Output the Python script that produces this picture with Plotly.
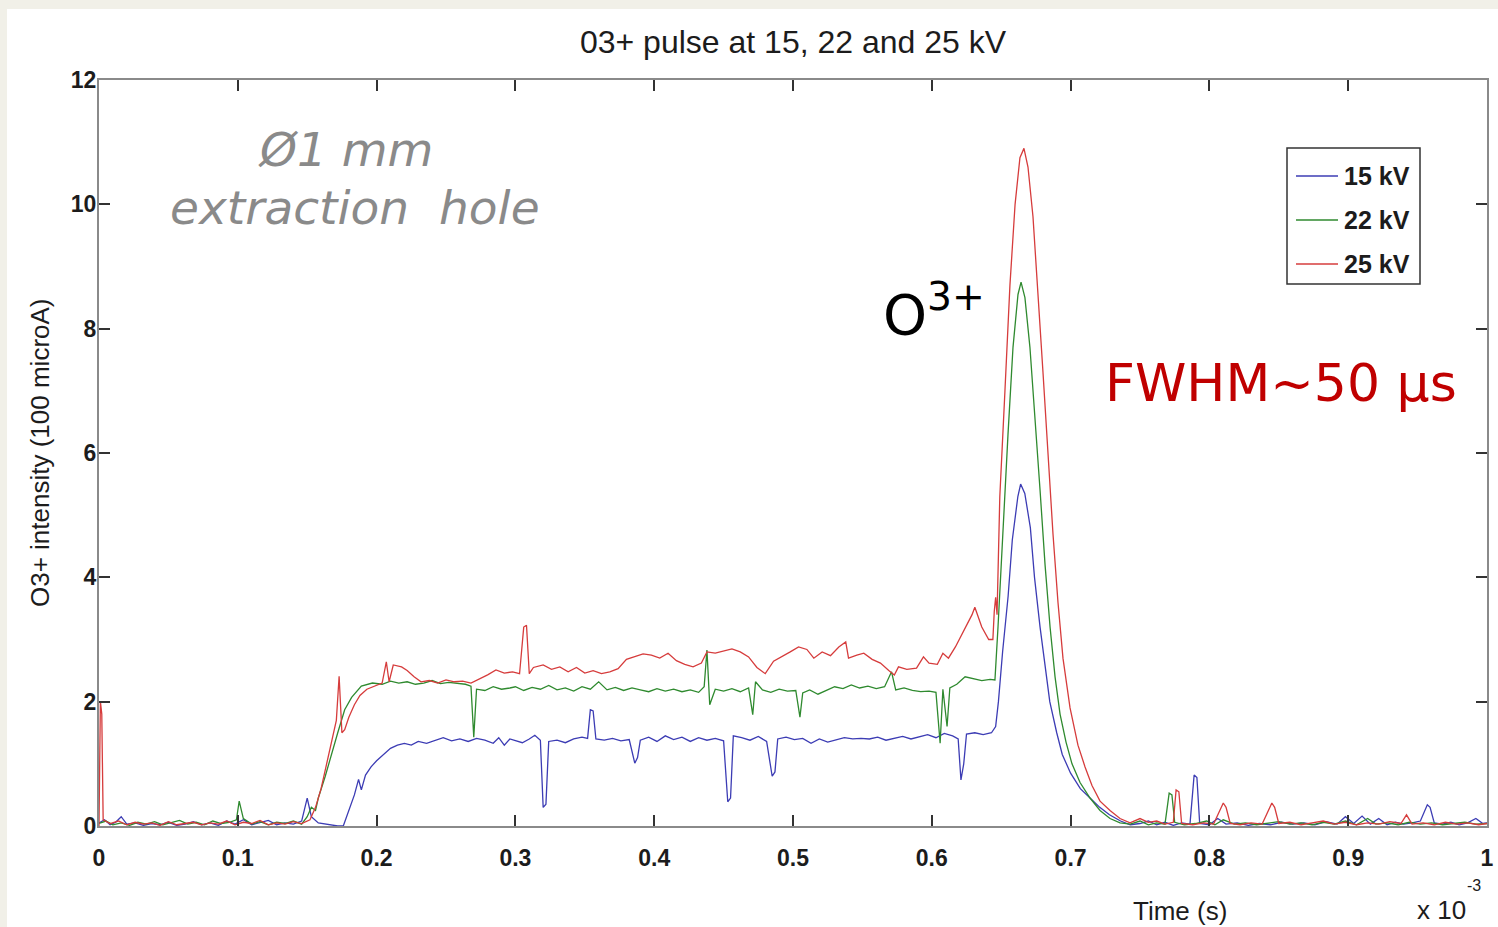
import plotly.graph_objects as go

# ---- Data: time in units of 1e-3 s, intensity in units of 100 microA ----
t_15kv = [0.000, 0.004, 0.008, 0.012, 0.016, 0.020, 0.026, 0.032, 0.038, 0.044, 0.050, 0.056, 0.062, 0.068,
          0.074, 0.080, 0.086, 0.092, 0.098, 0.104, 0.110, 0.116, 0.122, 0.128, 0.134, 0.140, 0.146, 0.150,
          0.153, 0.158, 0.165, 0.172, 0.176, 0.180, 0.184, 0.187, 0.189, 0.192, 0.196, 0.200, 0.205, 0.210,
          0.215, 0.220, 0.225, 0.230, 0.236, 0.242, 0.248, 0.254, 0.260, 0.266, 0.272, 0.278, 0.284, 0.288,
          0.292, 0.296, 0.300, 0.305, 0.310, 0.314, 0.318, 0.320, 0.322, 0.324, 0.330, 0.336, 0.342, 0.348,
          0.352, 0.354, 0.356, 0.358, 0.364, 0.370, 0.376, 0.382, 0.386, 0.388, 0.390, 0.396, 0.402, 0.408,
          0.414, 0.420, 0.426, 0.432, 0.438, 0.444, 0.450, 0.453, 0.455, 0.457, 0.463, 0.469, 0.475, 0.481,
          0.485, 0.487, 0.489, 0.495, 0.501, 0.507, 0.513, 0.519, 0.525, 0.531, 0.537, 0.543, 0.549, 0.555,
          0.561, 0.567, 0.573, 0.579, 0.585, 0.591, 0.597, 0.603, 0.609, 0.615, 0.619, 0.621, 0.623, 0.625,
          0.631, 0.637, 0.643, 0.646, 0.648, 0.651, 0.655, 0.658, 0.662, 0.664, 0.667, 0.671, 0.674, 0.678,
          0.682, 0.685, 0.690, 0.694, 0.700, 0.707, 0.714, 0.721, 0.728, 0.736, 0.743, 0.750, 0.756, 0.762,
          0.768, 0.774, 0.780, 0.786, 0.789, 0.791, 0.793, 0.800, 0.806, 0.812, 0.820, 0.828, 0.836, 0.844,
          0.852, 0.860, 0.868, 0.876, 0.884, 0.892, 0.898, 0.904, 0.910, 0.916, 0.922, 0.928, 0.934, 0.940,
          0.946, 0.952, 0.957, 0.959, 0.962, 0.968, 0.974, 0.980, 0.986, 0.992, 0.997, 1.000]
i_15kv = [0.05, 0.10, 0.02, 0.06, 0.15, 0.03, 0.05, 0.01, 0.04, 0.02, 0.06, 0.01, 0.03, 0.07,
          0.02, 0.05, 0.01, 0.08, 0.03, 0.10, 0.02, 0.06, 0.09, 0.02, 0.05, 0.03, 0.08, 0.45,
          0.15, 0.05, 0.02, 0.00, 0.00, 0.25, 0.50, 0.75, 0.58, 0.82, 0.95, 1.05, 1.15, 1.25,
          1.30, 1.33, 1.30, 1.36, 1.33, 1.38, 1.42, 1.37, 1.40, 1.36, 1.41, 1.38, 1.33, 1.42,
          1.30, 1.40, 1.37, 1.34, 1.40, 1.46, 1.38, 0.30, 0.35, 1.36, 1.38, 1.34, 1.40, 1.43,
          1.41, 1.87, 1.85, 1.40, 1.38, 1.41, 1.37, 1.39, 1.01, 1.10, 1.38, 1.43, 1.36, 1.45,
          1.39, 1.43, 1.36, 1.42, 1.38, 1.41, 1.37, 0.39, 0.45, 1.45, 1.42, 1.38, 1.44, 1.36,
          0.80, 0.87, 1.40, 1.43, 1.39, 1.41, 1.33, 1.40, 1.35, 1.38, 1.42, 1.40, 1.41, 1.40,
          1.43, 1.38, 1.41, 1.44, 1.40, 1.43, 1.47, 1.42, 1.49, 1.45, 1.40, 0.74, 1.00, 1.48,
          1.50, 1.47, 1.50, 1.60, 2.00, 2.80, 3.70, 4.60, 5.30, 5.50, 5.35, 4.80, 4.00, 3.20,
          2.50, 2.00, 1.50, 1.15, 0.85, 0.60, 0.45, 0.30, 0.18, 0.08, 0.02, 0.04, 0.08, 0.02,
          0.06, 0.01, 0.05, 0.03, 0.82, 0.78, 0.04, 0.02, 0.12, 0.03, 0.05, 0.01, 0.04, 0.02,
          0.06, 0.03, 0.05, 0.02, 0.07, 0.03, 0.15, 0.04, 0.16, 0.03, 0.12, 0.02, 0.06, 0.03,
          0.05, 0.08, 0.34, 0.30, 0.05, 0.03, 0.06, 0.02, 0.05, 0.12, 0.04, 0.05]

t_22kv = [0.000, 0.005, 0.010, 0.016, 0.022, 0.028, 0.034, 0.040, 0.046, 0.052, 0.058, 0.064, 0.070, 0.076,
          0.082, 0.088, 0.094, 0.099, 0.101, 0.104, 0.110, 0.116, 0.122, 0.128, 0.134, 0.140, 0.146, 0.150,
          0.153, 0.156, 0.158, 0.163, 0.168, 0.172, 0.177, 0.182, 0.189, 0.197, 0.204, 0.210, 0.216, 0.222,
          0.228, 0.234, 0.240, 0.246, 0.252, 0.258, 0.264, 0.268, 0.270, 0.272, 0.278, 0.284, 0.290, 0.296,
          0.300, 0.306, 0.312, 0.318, 0.324, 0.330, 0.336, 0.342, 0.348, 0.354, 0.360, 0.366, 0.372, 0.378,
          0.384, 0.390, 0.396, 0.402, 0.408, 0.414, 0.420, 0.426, 0.432, 0.436, 0.438, 0.440, 0.444, 0.450,
          0.456, 0.462, 0.468, 0.471, 0.473, 0.478, 0.484, 0.490, 0.496, 0.502, 0.505, 0.507, 0.512, 0.518,
          0.524, 0.530, 0.536, 0.542, 0.548, 0.554, 0.560, 0.566, 0.571, 0.574, 0.580, 0.586, 0.592, 0.598,
          0.603, 0.606, 0.608, 0.611, 0.613, 0.618, 0.624, 0.630, 0.636, 0.642, 0.6455, 0.6477, 0.6513,
          0.6549, 0.6585, 0.6621, 0.6643, 0.6671, 0.6707, 0.6744, 0.678, 0.6816, 0.6852, 0.6888, 0.6924,
          0.6967, 0.701, 0.7068, 0.714, 0.7212, 0.7284, 0.7356, 0.743, 0.750, 0.756, 0.762, 0.768, 0.771,
          0.773, 0.775, 0.782, 0.790, 0.798, 0.804, 0.810, 0.818, 0.826, 0.834, 0.842, 0.850, 0.858, 0.866,
          0.874, 0.882, 0.890, 0.898, 0.906, 0.914, 0.920, 0.928, 0.936, 0.944, 0.952, 0.960, 0.968, 0.976,
          0.984, 0.992, 1.000]
i_22kv = [0.04, 0.08, 0.02, 0.05, 0.01, 0.06, 0.03, 0.07, 0.02, 0.05, 0.09, 0.03, 0.06, 0.02,
          0.08, 0.04, 0.06, 0.10, 0.40, 0.12, 0.03, 0.07, 0.02, 0.06, 0.04, 0.08, 0.03, 0.15,
          0.30, 0.25, 0.45, 0.80, 1.20, 1.50, 1.87, 2.07, 2.25, 2.30, 2.28, 2.33, 2.30, 2.32,
          2.28, 2.30, 2.34, 2.29, 2.31, 2.30, 2.28, 2.25, 1.43, 2.20, 2.18, 2.24, 2.20, 2.22,
          2.24, 2.18, 2.23, 2.20, 2.26, 2.19, 2.22, 2.17, 2.24, 2.20, 2.32, 2.19, 2.23, 2.18,
          2.22, 2.19, 2.16, 2.21, 2.17, 2.20, 2.16, 2.19, 2.15, 2.24, 2.83, 1.95, 2.20, 2.17,
          2.21, 2.16, 2.22, 1.79, 2.32, 2.19, 2.15, 2.20, 2.17, 2.18, 1.75, 2.14, 2.19, 2.12,
          2.18, 2.24, 2.21, 2.27, 2.22, 2.25, 2.21, 2.24, 2.48, 2.19, 2.22, 2.18, 2.16, 2.17,
          2.15, 1.33, 2.20, 1.60, 2.22, 2.28, 2.40, 2.37, 2.34, 2.36, 2.35, 3.20, 4.80,
          6.30, 7.70, 8.55, 8.75, 8.50, 7.70, 6.60, 5.40, 4.20, 3.20, 2.40, 1.80,
          1.35, 1.00, 0.70, 0.45, 0.25, 0.12, 0.05, 0.03, 0.08, 0.02, 0.05, 0.03, 0.53,
          0.50, 0.06, 0.02, 0.04, 0.08, 0.02, 0.10, 0.03, 0.05, 0.02, 0.04, 0.07, 0.03, 0.05,
          0.02, 0.06, 0.03, 0.08, 0.02, 0.12, 0.03, 0.05, 0.02, 0.06, 0.03, 0.05, 0.02, 0.04,
          0.06, 0.03, 0.04]

t_25kv = [0.000, 0.001, 0.002, 0.003, 0.008, 0.014, 0.020, 0.026, 0.032, 0.038, 0.044, 0.050, 0.056, 0.062,
          0.068, 0.074, 0.080, 0.086, 0.092, 0.098, 0.104, 0.110, 0.116, 0.122, 0.128, 0.134, 0.140, 0.146,
          0.152, 0.156, 0.160, 0.164, 0.168, 0.171, 0.173, 0.175, 0.177, 0.180, 0.184, 0.188, 0.193, 0.198,
          0.204, 0.207, 0.209, 0.212, 0.218, 0.222, 0.227, 0.232, 0.238, 0.244, 0.250, 0.256, 0.262, 0.268,
          0.274, 0.280, 0.286, 0.292, 0.298, 0.303, 0.306, 0.308, 0.310, 0.313, 0.320, 0.326, 0.332, 0.338,
          0.344, 0.350, 0.356, 0.362, 0.368, 0.374, 0.380, 0.386, 0.392, 0.398, 0.404, 0.410, 0.416, 0.422,
          0.428, 0.434, 0.438, 0.444, 0.450, 0.456, 0.462, 0.468, 0.474, 0.480, 0.486, 0.492, 0.498, 0.504,
          0.510, 0.515, 0.521, 0.527, 0.533, 0.538, 0.540, 0.546, 0.551, 0.557, 0.563, 0.569, 0.573, 0.576,
          0.582, 0.589, 0.594, 0.598, 0.604, 0.608, 0.612, 0.617, 0.622, 0.629, 0.631, 0.636, 0.641, 0.644,
          0.645, 0.646, 0.647, 0.649, 0.6527, 0.6563, 0.660, 0.6635, 0.6664, 0.6693, 0.6729, 0.6765, 0.6801,
          0.6837, 0.6873, 0.6909, 0.6945, 0.6996, 0.7053, 0.7104, 0.7154, 0.7212, 0.7284, 0.7356, 0.7428,
          0.750, 0.756, 0.762, 0.768, 0.774, 0.776, 0.778, 0.780, 0.788, 0.796, 0.803, 0.810, 0.812, 0.815,
          0.822, 0.830, 0.838, 0.845, 0.847, 0.850, 0.858, 0.866, 0.874, 0.882, 0.890, 0.898, 0.906, 0.914,
          0.922, 0.930, 0.938, 0.942, 0.946, 0.954, 0.962, 0.970, 0.978, 0.986, 0.994, 1.000]
i_25kv = [0.00, 2.00, 1.80, 0.10, 0.04, 0.08, 0.02, 0.06, 0.03, 0.05, 0.01, 0.07, 0.02, 0.04,
          0.06, 0.02, 0.05, 0.03, 0.08, 0.02, 0.06, 0.04, 0.09, 0.02, 0.05, 0.03, 0.07, 0.04,
          0.10, 0.30, 0.60, 1.00, 1.40, 1.70, 2.41, 1.50, 1.55, 1.75, 1.95, 2.10, 2.20, 2.25,
          2.30, 2.64, 2.32, 2.59, 2.56, 2.50, 2.40, 2.32, 2.34, 2.30, 2.35, 2.32, 2.33, 2.30,
          2.36, 2.43, 2.51, 2.46, 2.48, 2.45, 3.20, 3.23, 2.45, 2.55, 2.59, 2.52, 2.56, 2.48,
          2.55, 2.46, 2.50, 2.45, 2.48, 2.53, 2.68, 2.72, 2.77, 2.75, 2.70, 2.78, 2.66, 2.60,
          2.56, 2.62, 2.80, 2.78, 2.82, 2.85, 2.80, 2.72, 2.55, 2.45, 2.65, 2.72, 2.80, 2.88,
          2.84, 2.70, 2.80, 2.74, 2.88, 2.96, 2.70, 2.75, 2.78, 2.68, 2.62, 2.50, 2.43, 2.56,
          2.52, 2.54, 2.72, 2.62, 2.60, 2.78, 2.70, 2.88, 3.10, 3.40, 3.52, 3.20, 3.00, 3.00,
          3.45, 3.68, 3.40, 5.30, 7.00, 8.70, 10.00, 10.75, 10.90, 10.60, 9.80, 8.60, 7.30,
          6.00, 4.70, 3.60, 2.70, 1.90, 1.30, 0.95, 0.65, 0.40, 0.25, 0.12, 0.05,
          0.12, 0.06, 0.08, 0.03, 0.06, 0.58, 0.55, 0.04, 0.02, 0.05, 0.03, 0.37, 0.30, 0.04,
          0.02, 0.05, 0.03, 0.37, 0.30, 0.04, 0.06, 0.02, 0.05, 0.08, 0.03, 0.06, 0.02, 0.05,
          0.03, 0.07, 0.04, 0.18, 0.03, 0.05, 0.02, 0.06, 0.03, 0.05, 0.02, 0.04]

series_names = ["15 kV", "22 kV", "25 kV"]
series_colors = ["#3c3cb4", "#2f8a2f", "#d63c3c"]
x_ticks = [0, 0.1, 0.2, 0.3, 0.4, 0.5, 0.6, 0.7, 0.8, 0.9, 1]
x_tick_text = ["0", "0.1", "0.2", "0.3", "0.4", "0.5", "0.6", "0.7", "0.8", "0.9", "1"]
y_ticks = [0, 2, 4, 6, 8, 10, 12]

# ---- Figure geometry (pixels) ----
W, H = 1498, 927
L, R, T, B = 99, 1487, 80, 826


def px(xp):
    return (xp - L) / (R - L)


def py(yp):
    return (B - yp) / (B - T)


fig = go.Figure()
for t, v, name, col in zip([t_15kv, t_22kv, t_25kv], [i_15kv, i_22kv, i_25kv], series_names, series_colors):
    fig.add_trace(go.Scatter(x=t, y=v, mode="lines", name=name,
                             line=dict(color=col, width=1.3), showlegend=False))

sans = "Liberation Sans, Arial, sans-serif"
dark = "#1c1c1c"
tick_font = dict(family=sans, size=23, color=dark, weight="bold")
axis_common = dict(showline=True, linecolor="#8a8a8a", linewidth=2, mirror="ticks",
                   ticks="inside", ticklen=11, tickwidth=1.5, tickcolor="#333333",
                   showgrid=False, zeroline=False, tickfont=tick_font)

fig.update_layout(
    width=W, height=H,
    margin=dict(l=L, r=W - R, t=T, b=H - B, autoexpand=False),
    paper_bgcolor="#ffffff", plot_bgcolor="#ffffff",
    title=dict(text="03+ pulse at 15, 22 and 25 kV", x=0.5, xref="paper", xanchor="center",
               y=1 - 42 / H, yref="container", yanchor="middle",
               font=dict(family=sans, size=32, color=dark)),
    xaxis=dict(range=[0, 1], tickvals=x_ticks, ticktext=x_tick_text, ticklabelstandoff=10, **axis_common),
    yaxis=dict(range=[0, 12], tickvals=y_ticks, ticklabelstandoff=-4, **axis_common),
)

# beige frame strips along the left and top edges
beige = "#f1f0e8"
fig.add_shape(type="rect", xref="paper", yref="paper", x0=px(0), x1=px(7), y0=py(H), y1=py(0),
              fillcolor=beige, line_width=0, layer="below")
fig.add_shape(type="rect", xref="paper", yref="paper", x0=px(0), x1=px(W), y0=py(9), y1=py(0),
              fillcolor=beige, line_width=0, layer="below")

wide = "DejaVu Sans, Verdana, sans-serif"
annotations = [
    dict(text="O3+ intensity (100 microA)", x=px(40), y=py(453), textangle=-90,
         font=dict(family=sans, size=26, color=dark)),
    dict(text="Time (s)", x=px(1180), y=py(911), font=dict(family=sans, size=26, color=dark)),
    dict(text="x 10", x=px(1441), y=py(910), font=dict(family=sans, size=26, color=dark)),
    dict(text="-3", x=px(1474), y=py(885), font=dict(family=sans, size=16, color=dark)),
    dict(text="<i>Ø1 mm</i>", x=px(345), y=py(150),
         font=dict(family=wide, size=47, color="#8a8a8a")),
    dict(text="<i>extraction  hole</i>", x=px(355), y=py(207),
         font=dict(family=wide, size=47, color="#8a8a8a")),
    dict(text="O<sup>3+</sup>", x=px(881), y=py(310), xanchor="left",
         font=dict(family=wide, size=56, color="#000000")),
    dict(text="FWHM~50 μs", x=px(1281), y=py(383),
         font=dict(family=wide, size=52, color="#c00000")),
]
for a in annotations:
    a.setdefault("xanchor", "center")
    fig.add_annotation(xref="paper", yref="paper", yanchor="middle", showarrow=False, **a)

# legend box with one row per series
fig.add_shape(type="rect", xref="paper", yref="paper", x0=px(1287), x1=px(1420), y0=py(284), y1=py(148),
              line=dict(color="#333333", width=1.5), fillcolor="#ffffff")
for k, (name, col) in enumerate(zip(series_names, series_colors)):
    row_y = 176 + 44 * k
    fig.add_shape(type="line", xref="paper", yref="paper", x0=px(1296), x1=px(1338),
                  y0=py(row_y), y1=py(row_y), line=dict(color=col, width=1.3))
    fig.add_annotation(text=name, xref="paper", yref="paper", x=px(1342), y=py(row_y),
                       xanchor="left", yanchor="middle", showarrow=False,
                       font=dict(family=sans, size=25, color=dark, weight="bold"))

fig.write_html("out.html")
